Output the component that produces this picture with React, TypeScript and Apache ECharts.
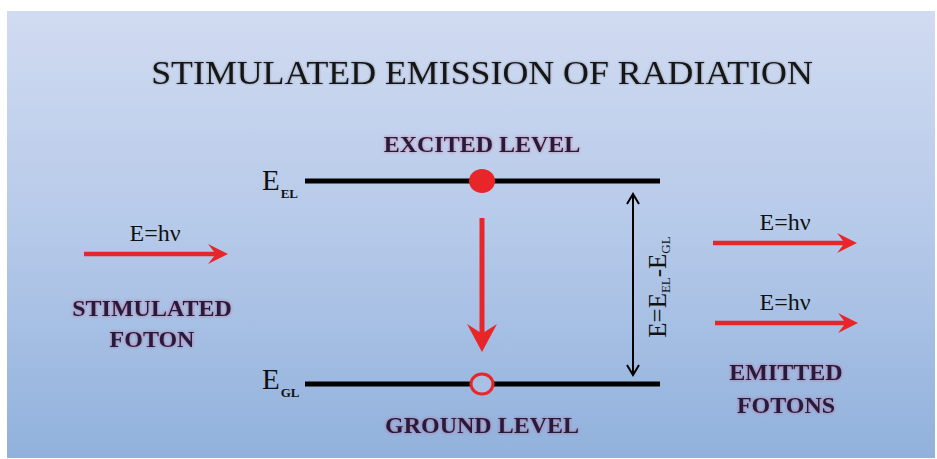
import React, { useEffect, useRef } from "react";
import * as echarts from "echarts";

const title = "STIMULATED EMISSION OF RADIATION";
const levelNames = ["EXCITED LEVEL", "GROUND LEVEL"];
const levelSubs = ["EL", "GL"];
const photonLabel = "E=hν";
const leftCaption = ["STIMULATED", "FOTON"];
const rightCaption = ["EMITTED", "FOTONS"];

const RED = "#e8262a";
const INK = "#231a3c";
const SERIF = "'Liberation Serif', 'Times New Roman', serif";

function hArrow(x0: number, x1: number, y: number) {
  const t = 2.2, hl = 20, hw = 10, notch = 6;
  return {
    type: "polygon",
    shape: {
      points: [
        [x0, y - t], [x1 - hl + notch, y - t], [x1 - hl, y - hw], [x1, y],
        [x1 - hl, y + hw], [x1 - hl + notch, y + t], [x0, y + t],
      ],
    },
    style: { fill: RED },
  };
}

function vArrow(x: number, y0: number, y1: number) {
  const t = 2.5, hl = 28, hw = 15, notch = 8;
  return {
    type: "polygon",
    shape: {
      points: [
        [x - t, y0], [x - t, y1 - hl + notch], [x - hw, y1 - hl], [x, y1],
        [x + hw, y1 - hl], [x + t, y1 - hl + notch], [x + t, y0],
      ],
    },
    style: { fill: RED },
  };
}

const labelStyle = (text: string, x: number, y: number, size = 24) => ({
  type: "text",
  x,
  y,
  style: {
    text,
    fill: INK,
    font: `bold ${size}px ${SERIF}`,
    align: "center",
    verticalAlign: "middle",
    textShadowColor: "rgba(190,40,80,0.55)",
    textShadowBlur: 3,
  },
});

export default function App() {
  const ref = useRef<HTMLDivElement>(null);
  useEffect(() => {
    document.body.style.margin = "0";
    if (!ref.current) return;
    const chart = echarts.init(ref.current, undefined, { renderer: "svg" });
    const levelY = [181, 384];
    const lx0 = 305, lx1 = 660, cx = 482;
    const elements: any[] = [
      {
        type: "rect",
        shape: { x: 7, y: 11, width: 928, height: 447 },
        style: {
          fill: new echarts.graphic.LinearGradient(0, 0, 0, 1, [
            { offset: 0, color: "#d1dbf1" },
            { offset: 0.5, color: "#b5c9e9" },
            { offset: 1, color: "#91b1dc" },
          ]),
        },
      },
      {
        type: "text",
        x: 482,
        y: 73,
        scaleX: 1.12,
        scaleY: 1.05,
        style: {
          text: title,
          fill: "#141414",
          font: `32px ${SERIF}`,
          align: "center",
          verticalAlign: "middle",
          textShadowColor: "rgba(40,40,40,0.4)",
          textShadowBlur: 2,
        },
      },
    ];
    levelY.forEach((y, i) => {
      elements.push({
        type: "line",
        shape: { x1: lx0, y1: y, x2: lx1, y2: y },
        style: { stroke: "#000", lineWidth: 5 },
      });
      elements.push({
        type: "text",
        x: 262,
        y: y - 1 - (i === 1 ? 4 : 0),
        style: {
          text: `{e|E}{s|${levelSubs[i]}}`,
          fill: "#111",
          verticalAlign: "middle",
          rich: {
            e: { font: `29px ${SERIF}`, fill: "#111" },
            s: { font: `bold 13px ${SERIF}`, fill: "#111", padding: [26, 0, 0, 1] },
          },
        },
      });
      elements.push(labelStyle(levelNames[i], cx, i === 0 ? 144 : 425));
    });
    elements.push({
      type: "ellipse",
      shape: { cx, cy: levelY[0], rx: 13, ry: 12 },
      style: { fill: RED },
    });
    elements.push({
      type: "ellipse",
      shape: { cx, cy: levelY[1], rx: 11, ry: 10 },
      style: { fill: "#a7c0e3", stroke: RED, lineWidth: 3 },
    });
    elements.push(vArrow(cx, 218, 352));
    // energy difference double arrow
    const ax = 633, ay0 = 194, ay1 = 375;
    elements.push({ type: "line", shape: { x1: ax, y1: ay0, x2: ax, y2: ay1 }, style: { stroke: "#000", lineWidth: 2 } });
    elements.push({ type: "polyline", shape: { points: [[ax - 6, ay0 + 10], [ax, ay0], [ax + 6, ay0 + 10]] }, style: { stroke: "#000", lineWidth: 2, fill: "none" } });
    elements.push({ type: "polyline", shape: { points: [[ax - 6, ay1 - 10], [ax, ay1], [ax + 6, ay1 - 10]] }, style: { stroke: "#000", lineWidth: 2, fill: "none" } });
    elements.push({
      type: "text",
      x: 657,
      y: 287,
      rotation: Math.PI / 2,
      style: {
        text: `{e|E=E}{s|${levelSubs[0]}}{e|-E}{s|${levelSubs[1]}}`,
        align: "center",
        verticalAlign: "middle",
        rich: {
          e: { font: `25px ${SERIF}`, fill: "#111" },
          s: { font: `13px ${SERIF}`, fill: "#111", padding: [17, 0, 0, 0] },
        },
      },
    });
    // photon arrows
    const photon = (x0: number, x1: number, y: number, lx: number) => {
      elements.push(hArrow(x0, x1, y));
      elements.push({
        type: "text",
        x: lx,
        y: y - 21,
        style: { text: photonLabel, fill: "#111", font: `24px ${SERIF}`, align: "center", verticalAlign: "middle" },
      });
    };
    photon(84, 228, 254, 155);
    photon(713, 857, 243, 785);
    photon(715, 858, 323, 785);
    leftCaption.forEach((t, i) => elements.push(labelStyle(t, 152, 308 + i * 31)));
    rightCaption.forEach((t, i) => elements.push(labelStyle(t, 786, 372 + i * 33)));

    chart.setOption({ animation: false, graphic: { elements } });
    return () => chart.dispose();
  }, []);
  return <div ref={ref} style={{ width: 937, height: 459, background: "#fff" }} />;
}
